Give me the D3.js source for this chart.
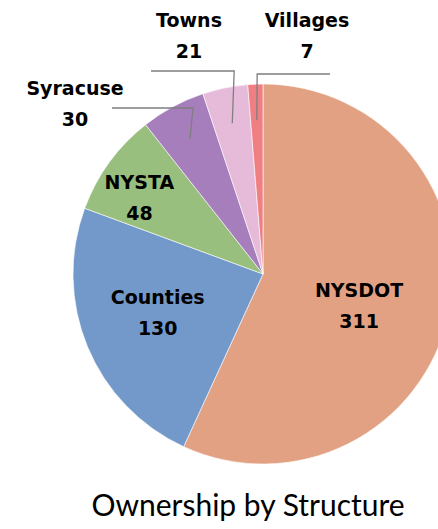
<!DOCTYPE html>
<html>
<head>
<meta charset="utf-8">
<script src="https://cdn.jsdelivr.net/npm/d3@7"></script>
<style>
  body { margin: 0; background: #fff; }
  text { font-family: "Lato", "DejaVu Sans", sans-serif; }
  text.lbl { font-family: "DejaVu Sans", sans-serif; }
</style>
</head>
<body>
<script>
  'use strict';

  var owners = ["NYSDOT", "Counties", "NYSTA", "Syracuse", "Towns", "Villages"];
  var counts = [311, 130, 48, 30, 21, 7];
  var colors = ["#e2a182", "#7399cb", "#98bf7d", "#a67ebc", "#e6bbda", "#ef7f83"];
  var title = "Ownership by Structure";

  var width = 438, height = 529;
  var cx = 263, cy = 274, radius = 190;

  var svg = d3.select("body").append("svg")
    .attr("width", width)
    .attr("height", height);

  var pie = d3.pie().sort(null).value(function (d) { return d; });
  var arcs = pie(counts);

  var arc = d3.arc().innerRadius(0).outerRadius(radius);

  var g = svg.append("g").attr("transform", "translate(" + cx + "," + cy + ")");

  g.selectAll("path")
    .data(arcs)
    .enter().append("path")
    .attr("d", arc)
    .attr("fill", function (d, i) { return colors[i]; })
    .attr("stroke", "#fff")
    .attr("stroke-width", 0.6);

  // inside labels: radius factor and nudges
  var inside = { 0: [0.55, -6, 9], 1: [0.6, 0, -6], 2: [0.72, -13, 3] };
  // outside labels: elbow y, tail x, label x, label y (relative to centre)
  var outside = {
    3: { elbowY: -166, tailX: -151, lx: -188, ly: -171 },
    4: { elbowY: -203, tailX: -112, lx: -74, ly: -239 },
    5: { elbowY: -200, tailX: 67, lx: 44, ly: -239 }
  };

  arcs.forEach(function (d, i) {
    var mid = (d.startAngle + d.endAngle) / 2;
    var lx, ly;
    if (inside[i]) {
      var c = d3.arc().innerRadius(0).outerRadius(radius * inside[i][0] * 2).centroid(d);
      lx = c[0] + inside[i][1];
      ly = c[1] + inside[i][2];
    } else {
      var o = outside[i];
      var r0 = radius * 0.81;
      var px = Math.sin(mid) * r0, py = -Math.cos(mid) * r0;
      var ex = px + (o.elbowY - py) * Math.tan(mid) * 0.18;
      g.append("polyline")
        .attr("points", [[px, py], [ex, o.elbowY], [o.tailX, o.elbowY]].map(function (p) { return p.join(","); }).join(" "))
        .attr("fill", "none")
        .attr("stroke", "#7f7f7f")
        .attr("stroke-width", 1.3);
      lx = o.lx;
      ly = o.ly;
    }
    var t = g.append("text")
      .attr("class", "lbl")
      .attr("text-anchor", "middle")
      .attr("font-weight", "bold")
      .attr("font-size", 19)
      .attr("fill", "#000");
    t.append("tspan").attr("x", lx).attr("y", ly - 8).text(owners[i]);
    t.append("tspan").attr("x", lx).attr("y", ly + 23).text(counts[i]);
  });

  svg.append("text")
    .attr("x", 248)
    .attr("y", 516)
    .attr("text-anchor", "middle")
    .attr("font-size", 30)
    .attr("fill", "#000")
    .text(title);
</script>
</body>
</html>
